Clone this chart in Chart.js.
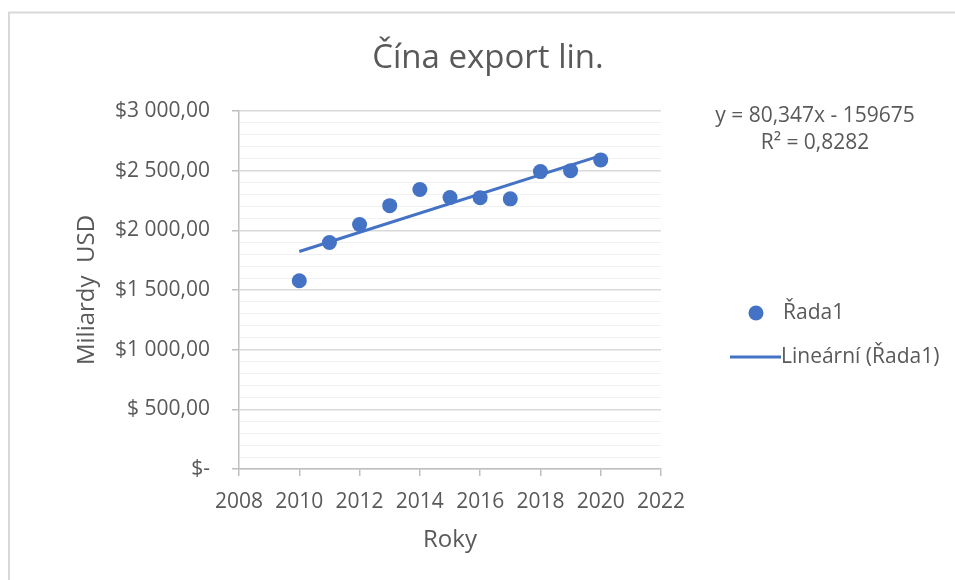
<!DOCTYPE html>
<html>
<head>
<meta charset="utf-8">
<script src="https://cdn.jsdelivr.net/npm/chart.js@4.4.1/dist/chart.umd.min.js"></script>
<style>
  body { margin: 0; background: #fff; }
  canvas { display: block; }
</style>
</head>
<body>
<canvas id="chart" width="955" height="580"></canvas>
<script>
// data
const years = [2010, 2011, 2012, 2013, 2014, 2015, 2016, 2017, 2018, 2019, 2020];
const exportUsd = [1577, 1898, 2049, 2207, 2342, 2275, 2274, 2264, 2492, 2500, 2590];

// trendline end points (from y = 80,347x - 159675)
const trendYears = [2010, 2020];
const trendValues = [1822.5, 2625.9];

const yTickLabels = ['$-', '$ 500,00', '$1 000,00', '$1 500,00', '$2 000,00', '$2 500,00', '$3 000,00'];
const xTickLabels = ['2008', '2010', '2012', '2014', '2016', '2018', '2020', '2022'];

const legendLabels = ['Řada1', 'Lineární (Řada1)'];
const equationLines = ['y = 80,347x - 159675', 'R² = 0,8282'];
const chartTitle = 'Čína export lin.';

const blue = '#4472C4';
const textGrey = '#595959';
const fontFamily = '"Open Sans", sans-serif';

const pointsData = years.map((y, i) => ({ x: y, y: exportUsd[i] }));
const trendData = trendYears.map((y, i) => ({ x: y, y: trendValues[i] }));

// title, legend, equation and frame drawn by hand
const extras = {
    id: 'extras',
    afterDraw(chart) {
        const ctx = chart.ctx;
        ctx.save();

        // frame
        ctx.strokeStyle = '#d9d9d9';
        ctx.lineWidth = 2;
        ctx.beginPath();
        ctx.moveTo(9, 580);
        ctx.lineTo(9, 12.5);
        ctx.lineTo(955, 12.5);
        ctx.stroke();

        ctx.fillStyle = textGrey;
        ctx.textBaseline = 'middle';

        // title
        ctx.textAlign = 'center';
        ctx.font = '33px ' + fontFamily;
        ctx.fillText(chartTitle, 488, 59);

        // equation
        ctx.font = '21px ' + fontFamily;
        ctx.fillText(equationLines[0], 815, 116);
        ctx.fillText(equationLines[1], 815, 143);

        // legend
        ctx.textAlign = 'left';
        ctx.fillStyle = blue;
        ctx.beginPath();
        ctx.arc(756, 313, 7.5, 0, Math.PI * 2);
        ctx.fill();
        ctx.strokeStyle = blue;
        ctx.lineWidth = 3;
        ctx.beginPath();
        ctx.moveTo(730, 357);
        ctx.lineTo(781, 357);
        ctx.stroke();

        ctx.fillStyle = textGrey;
        ctx.fillText(legendLabels[0], 783, 313);
        ctx.fillText(legendLabels[1], 781, 357);

        ctx.restore();
    }
};

new Chart(document.getElementById('chart'), {
    type: 'scatter',
    data: {
        datasets: [
            {
                label: legendLabels[0],
                data: pointsData,
                backgroundColor: blue,
                borderColor: blue,
                borderWidth: 0,
                pointRadius: 7.5,
                showLine: false
            },
            {
                label: legendLabels[1],
                data: trendData,
                borderColor: blue,
                borderWidth: 3,
                pointRadius: 0,
                showLine: true,
                fill: false
            }
        ]
    },
    options: {
        responsive: false,
        animation: false,
        layout: { padding: { top: 111, right: 294, bottom: 0, left: 0 } },
        plugins: {
            legend: { display: false },
            title: { display: false },
            tooltip: { enabled: false }
        },
        scales: {
            x: {
                type: 'linear',
                min: 2008,
                max: 2022,
                afterFit: (scale) => { scale.height = 111; },
                ticks: {
                    stepSize: 2,
                    color: textGrey,
                    font: { family: fontFamily, size: 21 },
                    padding: 13,
                    maxRotation: 0,
                    callback: (v) => xTickLabels[(v - 2008) / 2]
                },
                grid: {
                    drawOnChartArea: false,
                    tickLength: 7,
                    color: '#bfbfbf',
                    lineWidth: 1.5
                },
                border: { color: '#bfbfbf', width: 1.5 },
                title: {
                    display: true,
                    text: 'Roky',
                    color: textGrey,
                    font: { family: fontFamily, size: 24 },
                    padding: { top: 0, bottom: 25 }
                }
            },
            y: {
                min: 0,
                max: 3000,
                afterFit: (scale) => { scale.width = 239; },
                ticks: {
                    stepSize: 100,
                    autoSkip: false,
                    color: textGrey,
                    font: { family: fontFamily, size: 21 },
                    padding: 22,
                    callback: (v) => (v % 500 === 0 ? yTickLabels[v / 500] : '')
                },
                grid: {
                    tickLength: 7,
                    color: (c) => (c.tick && c.tick.value % 500 === 0 ? '#d9d9d9' : '#f0f0f0'),
                    tickColor: (c) => (c.tick && c.tick.value % 500 === 0 ? '#bfbfbf' : 'rgba(0,0,0,0)'),
                    lineWidth: (c) => (c.tick && c.tick.value % 500 === 0 ? 1.5 : 1)
                },
                border: { color: '#bfbfbf', width: 1.5 },
                title: {
                    display: true,
                    text: 'Miliardy  USD',
                    color: textGrey,
                    font: { family: fontFamily, size: 24 },
                    padding: { top: 73, bottom: 0 }
                }
            }
        }
    },
    plugins: [extras]
});
</script>
</body>
</html>
